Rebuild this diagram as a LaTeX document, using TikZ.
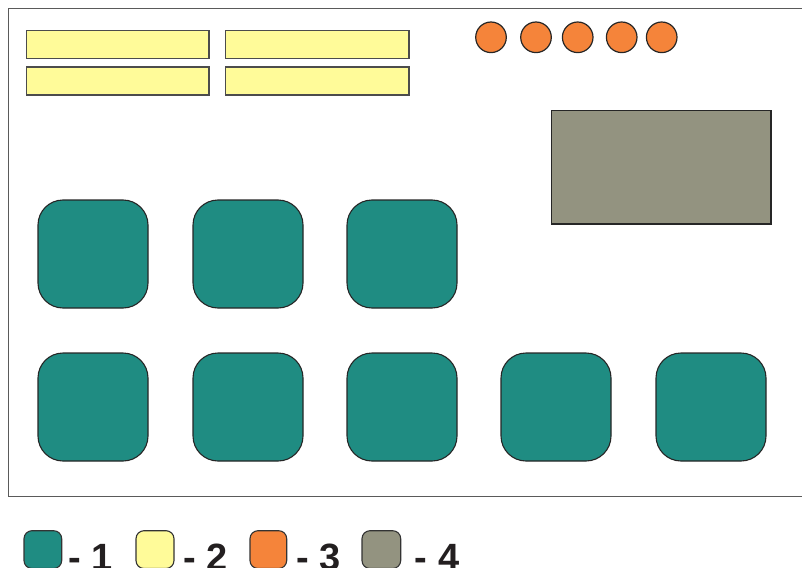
\documentclass[tikz,border=0pt]{standalone}
\usepackage{fontspec}
\setmainfont{Liberation Sans}
\begin{document}
\begin{tikzpicture}[x=1pt,y=-1pt,
  tealbox/.style={draw=black!85,line width=1.1pt,fill=tealc,rounded corners=25pt},
  yelbar/.style={draw=black!70,line width=1.3pt,fill=yelc},
  orcirc/.style={draw=black!85,line width=1.2pt,fill=orc},
  greyrect/.style={draw=black!85,line width=1.3pt,fill=greyc},
  legbox/.style={draw=black!80,line width=1.1pt,rounded corners=8pt},
  legtext/.style={anchor=base west,inner sep=0pt,text=legc,font=\fontsize{38}{40}\selectfont\bfseries}
]
\definecolor{tealc}{HTML}{1F8C82}
\definecolor{yelc}{HTML}{FFFB99}
\definecolor{orc}{HTML}{F5843A}
\definecolor{greyc}{HTML}{939380}
\definecolor{legc}{HTML}{231F20}
\definecolor{framec}{HTML}{5A5A5A}
\useasboundingbox (0,0) rectangle (802,567);
\clip (0,0) rectangle (802,567);
% frame
\draw[framec,line width=1.6pt] (820,8.5) -- (8.5,8.5) -- (8.5,496.5) -- (820,496.5);
% yellow bars
\draw[yelbar] (26.7,30.7) rectangle (209,58.3);
\draw[yelbar] (225.3,30.7) rectangle (409,58.3);
\draw[yelbar] (26.7,67) rectangle (209,95);
\draw[yelbar] (225.3,67) rectangle (409,95);
% orange circles
\foreach \cx in {491,536,577.7,621.7,661.7}
  \draw[orcirc] (\cx,37.3) circle (15.3);
% grey rectangle
\draw[greyrect] (551.7,110.7) rectangle (771,224);
% teal boxes
\foreach \xx in {38,193,347}
  \draw[tealbox] (\xx,200) rectangle ++(110,108);
\foreach \xx in {38,193,347,501,656}
  \draw[tealbox] (\xx,353) rectangle ++(110,108);
% legend
\draw[legbox,fill=tealc] (24,530.7) rectangle (61.7,568.5);
\draw[legbox,fill=yelc] (136,530.7) rectangle (174,568.5);
\draw[legbox,fill=orc] (250,530.7) rectangle (286.7,568.5);
\draw[legbox,fill=greyc] (362,530.7) rectangle (400.7,568.5);
\node[legtext] (l1) at (68,570) {- 1};
\node[legtext] (l2) at (183,570) {- 2};
\node[legtext] (l3) at (296.3,570) {- 3};
\node[legtext] (l4) at (414.7,570) {- 4};
\end{tikzpicture}
\end{document}
